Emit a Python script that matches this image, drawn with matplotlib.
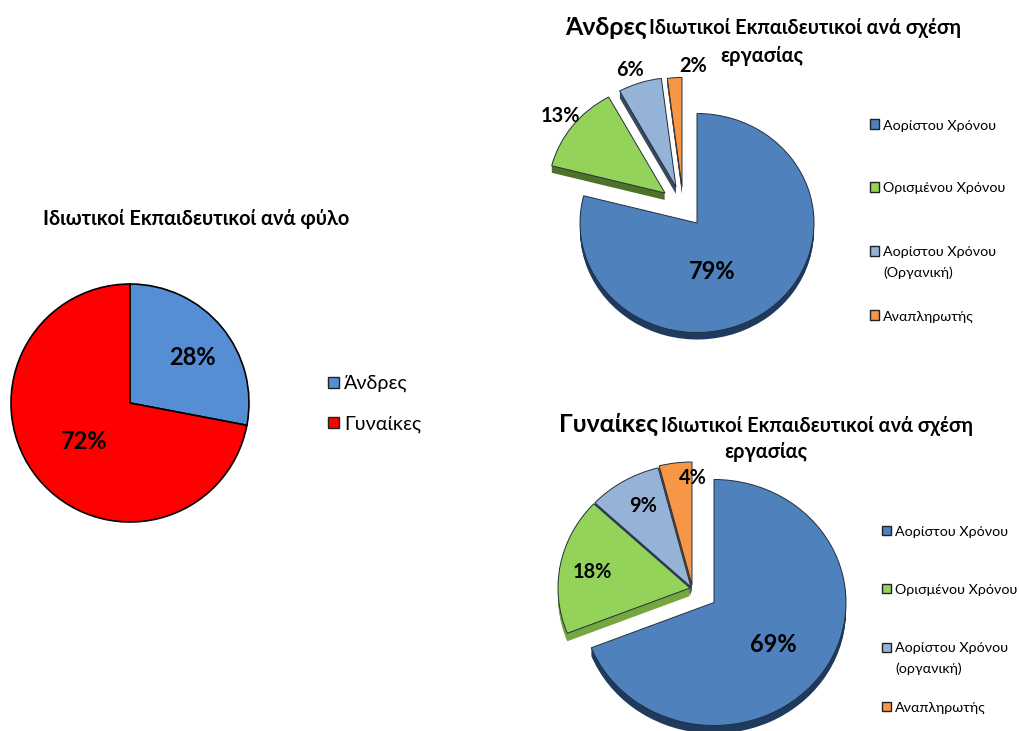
import matplotlib
matplotlib.use("Agg")
import matplotlib.pyplot as plt
from matplotlib.patches import Rectangle

W, H = 1019, 731
FONT = "Lato"
plt.rcParams["font.family"] = [FONT, "Open Sans"]

gender_labels = ["Άνδρες", "Γυναίκες"]
gender_values = [28, 72]
men_labels = ["Αορίστου Χρόνου", "Ορισμένου Χρόνου", "Αορίστου Χρόνου\n(Οργανική)", "Αναπληρωτής"]
men_values = [79, 13, 6, 2]
women_labels = ["Αορίστου Χρόνου", "Ορισμένου Χρόνου", "Αορίστου Χρόνου\n(οργανική)", "Αναπληρωτής"]
women_values = [69, 18, 9, 4]

COL_TOP = ["#4F81BD", "#94D35A", "#95B3D7", "#F79646"]
SIDE_M = ["#1F3A5F", "#4F7128", "#3A4A63", "#7A4A20"]
SIDE_W = ["#1F3A5F", "#76A63F", "#3A4A63", "#7A4A20"]

fig = plt.figure(figsize=(W / 100, H / 100), dpi=100)


def fx(x):
    return x / W


def fy(y):
    return 1 - y / H


def pie_axes(cx, cy, rx, ry):
    ax = fig.add_axes([fx(cx - rx), fy(cy + ry), 2 * rx / W, 2 * ry / H])
    return ax


def finish(ax):
    ax.set_aspect("auto")
    ax.set_xlim(-1, 1)
    ax.set_ylim(-1, 1)
    ax.set_axis_off()


def ptext(x, y, s, size, weight="normal", ha="center", va="center", color="black"):
    return fig.text(fx(x), fy(y + 1.5), s, fontsize=size, fontweight=weight, ha=ha, va=va, color=color, zorder=20)


def pie3d(values, center, rx, ry, tips, side, depth):
    cx, cy = center
    ax = pie_axes(cx, cy, rx, ry)
    offs = [((tx - cx) / rx, -(ty - cy) / ry) for tx, ty in tips]
    for k in range(depth, 0, -1):
        wedges, _ = ax.pie(values, colors=side, startangle=90, counterclock=False,
                           wedgeprops=dict(linewidth=0))
        for w, (ox, oy) in zip(wedges, offs):
            w.set_center((ox, oy - k / ry))
            w.set_clip_on(False)
    wedges, _ = ax.pie(values, colors=COL_TOP, startangle=90, counterclock=False,
                       wedgeprops=dict(linewidth=0.7, edgecolor="#22303F"))
    for w, (ox, oy) in zip(wedges, offs):
        w.set_center((ox, oy))
        w.set_clip_on(False)
        w.set_zorder(10)
    finish(ax)


def legend(x, ys, labels, colors, size, box, gap, edge="#222222", line_h=20):
    for yc, lab, c in zip(ys, labels, colors):
        fig.add_artist(Rectangle((fx(x), fy(yc + box / 2)), box / W, box / H, transform=fig.transFigure,
                                 facecolor=c, edgecolor=edge, linewidth=1))
        for i, part in enumerate(lab.split("\n")):
            ptext(x + box + gap, yc + i * line_h, part, size, ha="left")


# Left pie
ax = pie_axes(130, 403, 119, 119)
wedges, _ = ax.pie(gender_values, colors=["#558ED5", "#FF0000"], startangle=90, counterclock=False,
                   wedgeprops=dict(linewidth=1.2, edgecolor="black"))
for w in wedges:
    w.set_clip_on(False)
finish(ax)
ptext(196, 218, "Ιδιωτικοί Εκπαιδευτικοί ανά φύλο", 14.4, "bold")
ptext(192, 356, f"{gender_values[0]}%", 17, "bold")
ptext(84, 440, f"{gender_values[1]}%", 17, "bold")
legend(328, [382, 423], gender_labels, ["#558ED5", "#FF0000"], 14.2, 11, 5)

# Men pie
pie3d(men_values, (697, 223.5), 117, 109.5,
      [(697, 223), (665, 193), (676, 187), (682, 187)], SIDE_M, 7)
ptext(565, 26, "Άνδρες", 18, "bold", ha="left")
ptext(649, 27, "Ιδιωτικοί Εκπαιδευτικοί ανά σχέση", 14.3, "bold", ha="left")
ptext(762, 54, "εργασίας", 14.3, "bold")
for (x, y), v, s in zip([(712, 270), (560, 115), (630, 69), (693, 65)], men_values, [17, 14.3, 14.3, 14.3]):
    ptext(x, y, f"{v}%", s, "bold")
legend(870, [124, 187, 251, 315], men_labels, COL_TOP, 10.3, 9, 4)

# Women pie
pie3d(women_values, (714, 603.5), 132, 123,
      [(714, 602.5), (690, 588), (691, 587), (692, 585)], SIDE_W, 8)
ptext(559, 423, "Γυναίκες", 18, "bold", ha="left")
ptext(661, 424, "Ιδιωτικοί Εκπαιδευτικοί ανά σχέση", 14.3, "bold", ha="left")
ptext(766, 451, "εργασίας", 14.3, "bold")
for (x, y), v, s in zip([(773, 643), (592, 571), (643, 505), (693, 477)], women_values, [17, 14.3, 14.3, 14.3]):
    ptext(x, y, f"{v}%", s, "bold")
legend(882, [530, 588, 647, 706], women_labels, COL_TOP, 10.3, 9, 4)

fig.savefig("out.png", dpi=100)
